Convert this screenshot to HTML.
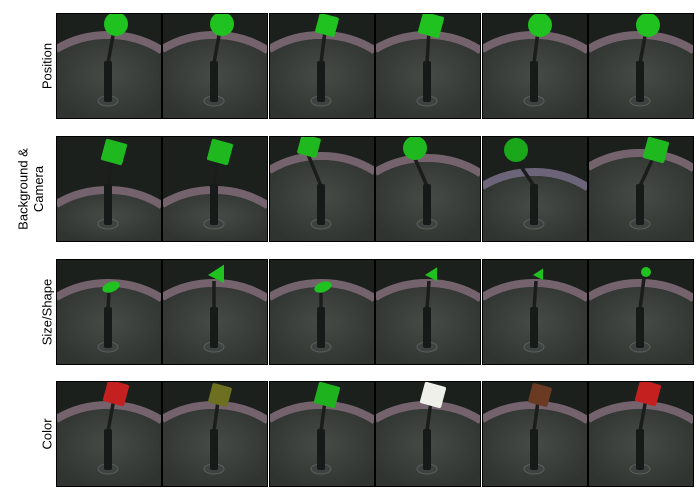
<!DOCTYPE html>
<html><head><meta charset="utf-8">
<style>
html,body{margin:0;padding:0;background:#fff;width:700px;height:500px;overflow:hidden;font-family:"Liberation Sans",sans-serif;position:relative;}
svg{display:block;position:absolute;left:0;top:0;}
</style></head>
<body>
<svg id="fig" width="700" height="500" viewBox="0 0 700 500" xmlns="http://www.w3.org/2000/svg">
<defs>
<radialGradient id="floor" cx="0.5" cy="0.45" r="0.6"><stop offset="0" stop-color="#474b47"/><stop offset="1" stop-color="#303430"/></radialGradient>
</defs>
</svg>
<script>
const rowLabels = [["Position"],["Background &","Camera"],["Size/Shape"],["Color"]];
// per-row, per-column: rim top y, object shape, color, object x, object y, size
const rimTop = [[20,20,20,20,20,20],[52,52,18,20,34,15],[22,22,22,22,22,22],[22,22,22,22,22,22]];
const shapes = [["ball","ball","cube","cube","ball","ball"],["cube","cube","cube","ball","ball","cube"],["blob","tri","blob","tri","tri","ball"],["cube","cube","cube","cube","cube","cube"]];
const colors = [["#1fc21f","#1fc21f","#1fc21f","#1fc21f","#1fc21f","#1fc21f"],["#1fb81f","#1fb81f","#1fb81f","#1fb81f","#1aa81a","#1fb81f"],["#1fc21f","#1fc21f","#1fc21f","#1fc21f","#1fc21f","#1fc21f"],["#c42020","#6c7020","#1fb21f","#f0f0ea","#6a3a22","#c42020"]];
const objX = [[60,60,58,56,58,60],[58,58,40,40,34,68],[55,54,54,56,56,58],[60,58,58,58,58,60]];
const objY = [[11,11,12,12,12,12],[16,16,10,12,14,14],[28,16,28,16,16,13],[12,14,14,14,14,12]];
const objSize = [[12,12,10,11,12,12],[11,11,10,12,12,11],[7,8,7,6,5,5],[11,10,11,11,10,11]];

const svg = document.getElementById('fig');
const NS = 'http://www.w3.org/2000/svg';
const colX = [56,162,269,375,482,588];
const rowY = [13,136,259,381];
const W = 106, H = 106;
function mk(tag, attrs, parent){const e=document.createElementNS(NS,tag);for(const k in attrs)e.setAttribute(k,attrs[k]);parent.appendChild(e);return e;}
function arcY(x,cy,rx,ry){const d=(x-52)/rx;return cy-ry*Math.sqrt(Math.max(0,1-d*d));}
function arcD(cy,rx,ry,closed){
  const y0=arcY(0,cy,rx,ry), y1=arcY(W,cy,rx,ry);
  let d=`M0,${y0.toFixed(2)} A${rx},${ry} 0 0 1 ${W},${y1.toFixed(2)}`;
  if(closed) d+=` L${W},${H} L0,${H} Z`;
  return d;
}

rowLabels.forEach((lines,r)=>{
  const cy = rowY[r]+H/2;
  const t = mk('text',{transform:`translate(${lines.length>1?30:47},${cy}) rotate(-90)`,'text-anchor':'middle','font-size':'13',fill:'#000','font-family':'Liberation Sans, sans-serif'},svg);
  
  
  lines.forEach((ln,i)=>{const ts=mk('tspan',{x:0,dy:i===0?(lines.length>1?'-0.2em':'0.35em'):'1.2em'},t);ts.textContent=ln;});
  for(let c=0;c<6;c++){
    const g = mk('g',{transform:`translate(${colX[c]},${rowY[r]})`},svg);
    
    
    const cp = 'cp'+r+'_'+c;
    const clip = mk('clipPath',{id:cp},g); mk('rect',{x:0,y:0,width:W,height:H},clip);
    const s = mk('g',{'clip-path':`url(#${cp})`},g);
    mk('rect',{x:0,y:0,width:W,height:H,fill:'#1b201d'},s);
    const rt = rimTop[r][c];
    const ecy = rt+84;
    const rimCol = (r===1&&c===4)?'#6c6478':'#74626c';
    mk('path',{d:arcD(ecy,96,86,true),fill:'#2a2e2b'},s);
    mk('path',{d:arcD(ecy,92,82,false),fill:'none',stroke:rimCol,'stroke-width':8},s);
    mk('path',{d:arcD(ecy,88,78,true),fill:'url(#floor)'},s);
    const ox=objX[r][c], oy=objY[r][c];
    mk('line',{x1:ox-2,y1:oy+6,x2:52,y2:50,stroke:'#1a1d1c','stroke-width':3.5},s);
    mk('ellipse',{cx:52,cy:88,rx:10,ry:5,fill:'#3d4341',stroke:'#59605c','stroke-width':1},s);
    mk('rect',{x:48,y:48,width:8,height:41,fill:'#161a19',rx:2},s);
    const sz=objSize[r][c], col=colors[r][c], sh=shapes[r][c];
    let o;
    if(sh==='ball') o=mk('circle',{cx:ox,cy:oy,r:sz,fill:col},s);
    else if(sh==='cube') o=mk('rect',{x:ox-sz,y:oy-sz,width:2*sz,height:2*sz,rx:2,fill:col,transform:`rotate(15 ${ox} ${oy})`},s);
    else if(sh==='blob') o=mk('ellipse',{cx:ox,cy:oy,rx:sz+2,ry:sz-2,fill:col,transform:`rotate(-20 ${ox} ${oy})`},s);
    else o=mk('polygon',{points:`${ox-sz},${oy} ${ox+sz},${oy-sz*1.3} ${ox+sz},${oy+sz}`,fill:col},s);
    
    
    mk('rect',{x:0.5,y:0.5,width:W-1,height:H-1,fill:'none',stroke:'#000','stroke-width':1},g);
  }
});
</script>
</body></html>
